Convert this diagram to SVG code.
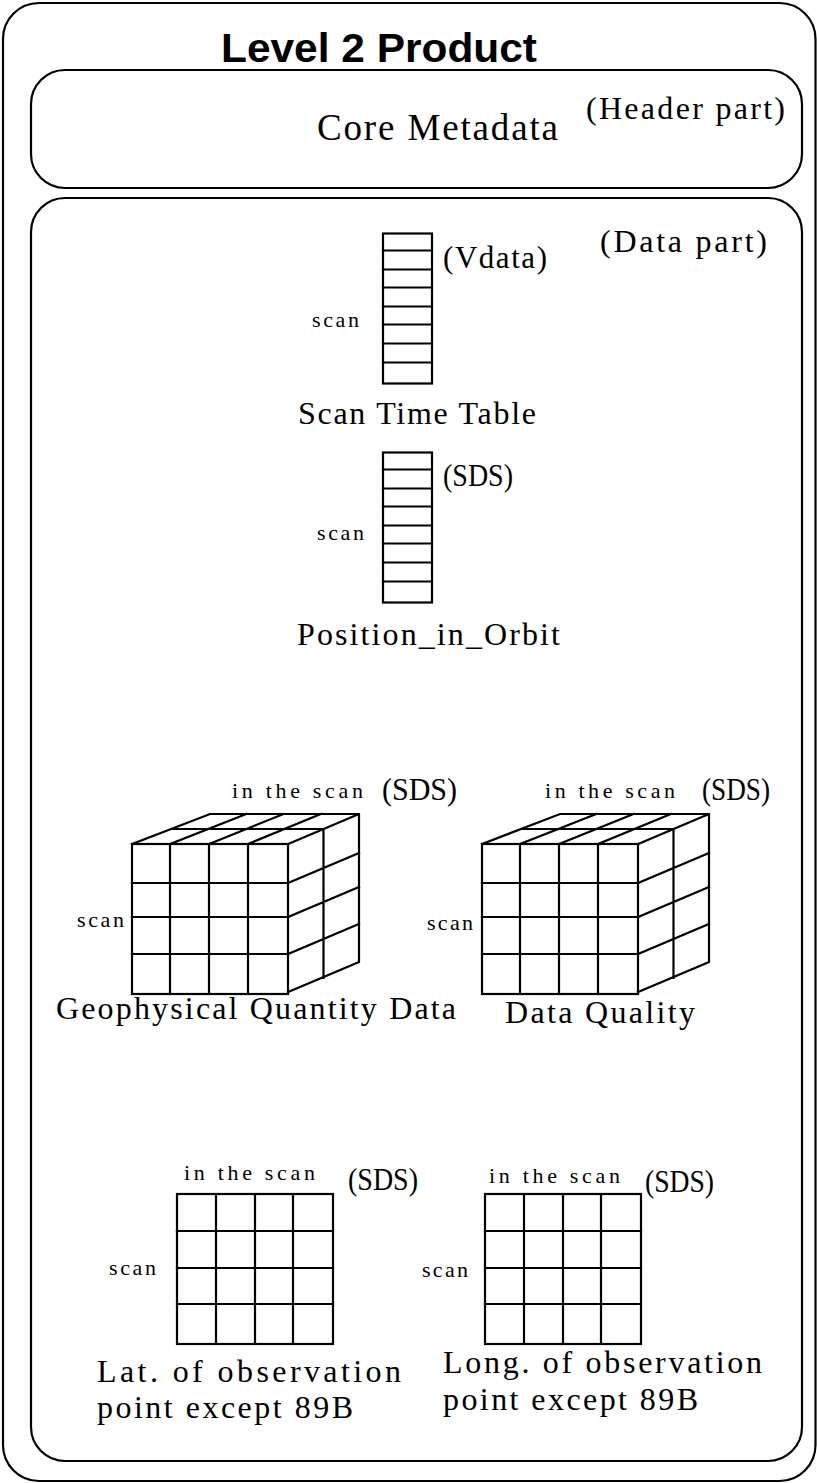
<svg xmlns="http://www.w3.org/2000/svg" xmlns:xlink="http://www.w3.org/1999/xlink" width="817" height="1483" viewBox="0 0 817 1483">
<style>
  .frame { fill: #fff; stroke: #000; stroke-width: 2.2; }
  .box { fill: none; stroke: #000; stroke-width: 2.2; }
  .ln { fill: none; stroke: #000; stroke-width: 2.2; stroke-linecap: square; }
  .title { font-family: "Liberation Sans", Arial, sans-serif; font-weight: bold; font-size: 41px; fill: #000; }
  .t { font-family: "Liberation Serif", "Times New Roman", serif; fill: #000; }
  .big { font-size: 37px; }
  .lab { font-size: 32px; }
  .tag { font-size: 31px; }
  .sm { font-size: 22px; }
</style>
<defs>
  <g id="stack">
    <rect class="box" x="0" y="0" width="49" height="150"/>
    <path class="ln" d="M0 17H47M0 36H47M0 54H47M0 73H47M0 91H47M0 110H47M0 129H47"/>
  </g>
  <g id="cube">
    <rect class="box" x="0" y="0" width="156" height="150"/>
    <path class="ln" d="M38 0V150M77 0V150M116 0V150M0 39H156M0 73H156M0 110H156"/>
    <path class="ln" d="M0 0L78 -30H227L156 0"/>
    <path class="ln" d="M38 0L114.3 -30M77 0L151.5 -30M116 0L188.8 -30M39 -15H191.5"/>
    <path class="ln" d="M227 -30V118L156 148"/>
    <path class="ln" d="M191.5 -15V134M156 39L227 9M156 73L227 43M156 110L227 80"/>
  </g>
  <g id="grid">
    <rect class="box" x="0" y="0" width="156" height="150"/>
    <path class="ln" d="M39 0V150M78 0V150M116 0V150M0 37H156M0 74H156M0 110H156"/>
  </g>
</defs>

<g id="outer">
  <rect class="frame" x="3" y="3" width="812.5" height="1478" rx="36" ry="36"/>
  <text class="title" x="221" y="62" textLength="316" lengthAdjust="spacingAndGlyphs">Level 2 Product</text>
</g>

<g id="header">
  <rect class="box" x="31" y="70" width="771" height="118" rx="34" ry="34"/>
  <text class="t lab" x="586" y="119" textLength="199" lengthAdjust="spacing">(Header part)</text>
  <text class="t big" x="317" y="140" textLength="241" lengthAdjust="spacing">Core Metadata</text>
</g>

<g id="data">
  <rect class="box" x="31" y="198" width="771" height="1263" rx="34" ry="34"/>
  <text class="t lab" x="600" y="252" textLength="167" lengthAdjust="spacing">(Data part)</text>
</g>

<g id="scan-time-table">
  <use xlink:href="#stack" transform="translate(383,233.5)"/>
  <text class="t tag" x="443" y="268" textLength="104" lengthAdjust="spacing">(Vdata)</text>
  <text class="t sm" x="312" y="327" textLength="47" lengthAdjust="spacing">scan</text>
  <text class="t lab" x="298" y="424" textLength="238" lengthAdjust="spacing">Scan Time Table</text>
</g>

<g id="position-in-orbit">
  <use xlink:href="#stack" transform="translate(383,452.5)"/>
  <text class="t tag" x="443" y="486" textLength="70" lengthAdjust="spacingAndGlyphs">(SDS)</text>
  <text class="t sm" x="317" y="540" textLength="47" lengthAdjust="spacing">scan</text>
  <text class="t lab" x="297" y="645" textLength="263" lengthAdjust="spacing">Position_in_Orbit</text>
</g>

<g id="geophysical-quantity-data">
  <use xlink:href="#cube" transform="translate(132,844)"/>
  <text class="t sm" x="232" y="798" textLength="131" lengthAdjust="spacing">in the scan</text>
  <text class="t tag" x="382" y="800" textLength="75" lengthAdjust="spacingAndGlyphs">(SDS)</text>
  <text class="t sm" x="77" y="927" textLength="47" lengthAdjust="spacing">scan</text>
  <text class="t lab" x="56" y="1019" textLength="400" lengthAdjust="spacing">Geophysical Quantity Data</text>
</g>

<g id="data-quality">
  <use xlink:href="#cube" transform="translate(482,844)"/>
  <text class="t sm" x="545" y="798" textLength="130" lengthAdjust="spacing">in the scan</text>
  <text class="t tag" x="702" y="800" textLength="68" lengthAdjust="spacingAndGlyphs">(SDS)</text>
  <text class="t sm" x="427" y="930" textLength="46" lengthAdjust="spacing">scan</text>
  <text class="t lab" x="505" y="1023" textLength="190" lengthAdjust="spacing">Data Quality</text>
</g>

<g id="latitude">
  <use xlink:href="#grid" transform="translate(177,1194)"/>
  <text class="t sm" x="184" y="1180" textLength="131" lengthAdjust="spacing">in the scan</text>
  <text class="t tag" x="348" y="1190" textLength="70" lengthAdjust="spacingAndGlyphs">(SDS)</text>
  <text class="t sm" x="109" y="1275" textLength="47" lengthAdjust="spacing">scan</text>
  <text class="t lab" x="97" y="1382" textLength="304" lengthAdjust="spacing">Lat. of observation</text>
  <text class="t lab" x="97" y="1418" textLength="256" lengthAdjust="spacing">point except 89B</text>
</g>

<g id="longitude">
  <use xlink:href="#grid" transform="translate(485,1194)"/>
  <text class="t sm" x="489" y="1183" textLength="131" lengthAdjust="spacing">in the scan</text>
  <text class="t tag" x="645" y="1192" textLength="69" lengthAdjust="spacingAndGlyphs">(SDS)</text>
  <text class="t sm" x="422" y="1277" textLength="46" lengthAdjust="spacing">scan</text>
  <text class="t lab" x="443" y="1373" textLength="319" lengthAdjust="spacing">Long. of observation</text>
  <text class="t lab" x="443" y="1410" textLength="255" lengthAdjust="spacing">point except 89B</text>
</g>

<g id="connectors"></g>
</svg>
